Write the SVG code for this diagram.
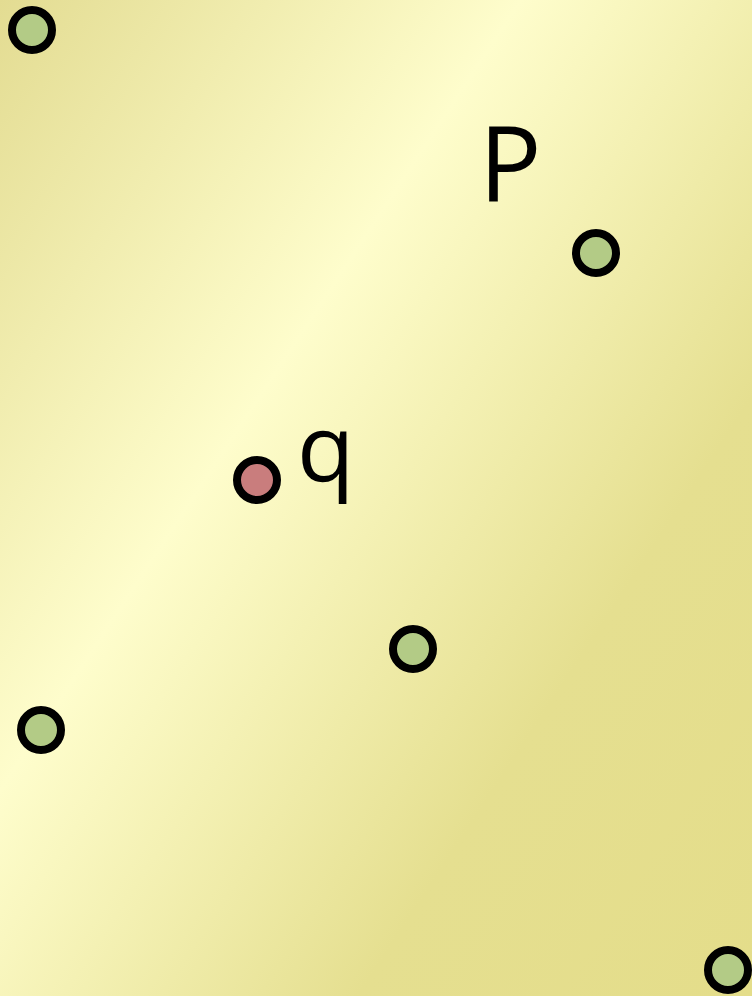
<svg xmlns="http://www.w3.org/2000/svg" width="752" height="996" viewBox="0 0 752 996">
<style>
.pt{stroke:#000;stroke-width:8}
.g{fill:#b3cb86}
.r{fill:#c97d7d}
.lbl{font-family:"Open Sans","Liberation Sans",sans-serif;font-weight:400;fill:#000}
</style>
<defs>
<linearGradient id="bg" gradientUnits="userSpaceOnUse" x1="0" y1="0" x2="982" y2="647">
<stop offset="0" stop-color="#e3dc92"/>
<stop offset="0.37" stop-color="#fefdcc"/>
<stop offset="0.72" stop-color="#e5df90"/>
<stop offset="1" stop-color="#e4dd8a"/>
</linearGradient>
</defs>
<rect width="752" height="996" fill="url(#bg)"/>
<g id="connectors"></g>
<g id="label-P"><text class="lbl" x="479" y="201" font-size="104">P</text></g>
<g id="label-q"><text class="lbl" x="297" y="482" font-size="94">q</text></g>
<g id="p1"><circle class="pt g" cx="32" cy="30" r="20"/></g>
<g id="p2"><circle class="pt g" cx="596" cy="253" r="20"/></g>
<g id="q"><circle class="pt r" cx="257" cy="480" r="20"/></g>
<g id="p3"><circle class="pt g" cx="413" cy="649" r="20"/></g>
<g id="p4"><circle class="pt g" cx="41" cy="730" r="20"/></g>
<g id="p5"><circle class="pt g" cx="728" cy="970" r="20"/></g>
</svg>
